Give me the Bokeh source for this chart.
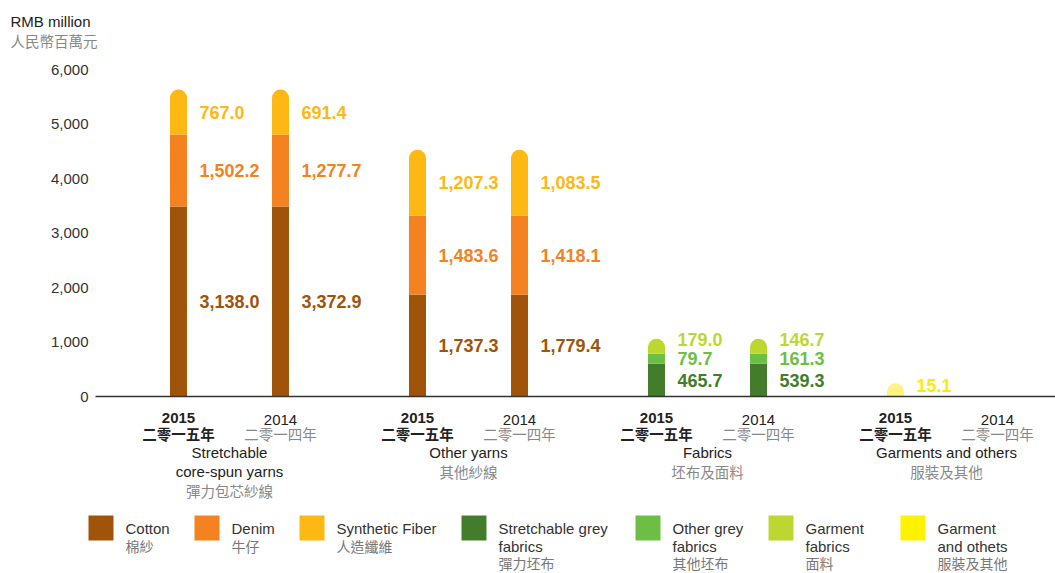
import numpy as np
from bokeh.plotting import figure
from bokeh.models import Range1d
from bokeh.core.properties import value
from bokeh.embed import file_html
from bokeh.resources import INLINE

# ---------------- data ----------------
groups_en = [["Stretchable", "core-spun yarns"], ["Other yarns"], ["Fabrics"], ["Garments and others"]]
groups_zh = ["彈力包芯紗線", "其他紗線", "坯布及面料", "服裝及其他"]
years = ["2015", "2014"]
years_zh = ["二零一五年", "二零一四年"]

series_en = [["Cotton"], ["Denim"], ["Synthetic Fiber"], ["Stretchable grey", "fabrics"],
             ["Other grey", "fabrics"], ["Garment", "fabrics"], ["Garment", "and othets"]]
series_zh = ["棉紗", "牛仔", "人造纖維", "彈力坯布", "其他坯布", "面料", "服裝及其他"]

# labelled values per bar (order: group0-2015, group0-2014, group1-2015, ...)
cotton = [3138.0, 3372.9, 1737.3, 1779.4, 0, 0, 0, 0]
denim = [1502.2, 1277.7, 1483.6, 1418.1, 0, 0, 0, 0]
synthetic = [767.0, 691.4, 1207.3, 1083.5, 0, 0, 0, 0]
stretch_grey = [0, 0, 0, 0, 465.7, 539.3, 0, 0]
other_grey = [0, 0, 0, 0, 79.7, 161.3, 0, 0]
garment_fabrics = [0, 0, 0, 0, 179.0, 146.7, 0, 0]
garment_others = [0, 0, 0, 0, 0, 0, 15.1, 0]

# segment heights as drawn in the picture (the bars are schematic)
cotton_drawn = [3486, 3486, 1866, 1866, 0, 0, 0, 0]
denim_drawn = [1321, 1321, 1450, 1450, 0, 0, 0, 0]
synthetic_drawn = [826, 826, 1211, 1211, 0, 0, 0, 0]
stretch_grey_drawn = [0, 0, 0, 0, 600, 600, 0, 0]
other_grey_drawn = [0, 0, 0, 0, 183, 183, 0, 0]
garment_fabrics_drawn = [0, 0, 0, 0, 276, 276, 0, 0]
garment_others_drawn = [0, 0, 0, 0, 0, 0, 244, 0]

y_ticks = [0, 1000, 2000, 3000, 4000, 5000, 6000]

values = [cotton, denim, synthetic, stretch_grey, other_grey, garment_fabrics, garment_others]
drawn = [cotton_drawn, denim_drawn, synthetic_drawn, stretch_grey_drawn, other_grey_drawn,
         garment_fabrics_drawn, garment_others_drawn]

# ---------------- style / layout ----------------
colors = ["#A0540A", "#F58220", "#FDB813", "#437C2B", "#6DBE45", "#BED730", "#FFF200"]
bar_colors = ["#A0540A", "#F58220", "#FDB813", "#437C2B", "#6DBE45", "#BED730", "#FFF283"]
label_colors = ["#A0540A", "#F58220", "#FDB813", "#437C2B", "#6DBE45", "#BED730", "#FFEA00"]
FONT = "Liberation Sans"
CJK = "Noto Sans CJK TC"

W, H = 1055, 573
PX_Y = 54.5 / 1000.0      # px per unit on y
PX_X = 239.0              # px per group on x
BAR_OFF = 51 / PX_X
BAR_W = 17 / PX_X
CAP_R = 8.5               # px
ZERO_PX = 396
X0_PX = 229               # px of first group centre
LABEL_GAP = 19.5          # min px between stacked value labels

def ydata(px):
    return (ZERO_PX - px) / PX_Y

def xdata(px):
    return (px - X0_PX) / PX_X

n_groups = len(groups_en)
bar_x = [g + (-BAR_OFF if k == 0 else BAR_OFF) for g in range(n_groups) for k in range(2)]
nb = len(bar_x)

p = figure(width=W, height=H, output_backend="svg", toolbar_location=None,
           x_range=Range1d(xdata(0), xdata(W)), y_range=Range1d(ydata(H), ydata(0)),
           min_border=0, x_axis_location=None, y_axis_location=None)
p.extra_x_ranges = {"px": Range1d(0, W)}
p.extra_y_ranges = {"px": Range1d(H, 0)}
p.outline_line_color = None
p.grid.visible = False
PXR = dict(x_range_name="px", y_range_name="px")

# y tick labels
p.text(x=[xdata(88)] * len(y_ticks), y=y_ticks, text=[f"{t:,}" for t in y_ticks],
       text_font=value(FONT), text_font_size="15px", text_color="#333333",
       text_align="right", text_baseline="middle")

cap_units = CAP_R / PX_Y
seam = 1.0 / PX_Y
bottoms = np.zeros(nb)
totals = np.sum(np.array(drawn, dtype=float), axis=0)
cap_x, cap_y, cap_c = [], [], []
lab_x, lab_y, lab_t, lab_c = [], [], [], []
last_lab_px = [None] * nb
for s in range(len(drawn)):
    h = np.array(drawn[s], dtype=float)
    xs, bs, ts = [], [], []
    for i in range(nb):
        if h[i] <= 0:
            continue
        b = bottoms[i]
        t = b + h[i]
        is_top = abs(t - totals[i]) < 1e-6
        mid_px = ZERO_PX - (b + t) / 2 * PX_Y
        mid_px = min(mid_px, ZERO_PX - 11.5)
        if last_lab_px[i] is not None:
            mid_px = min(mid_px, last_lab_px[i] - LABEL_GAP)
        last_lab_px[i] = mid_px
        if is_top:
            t_rect = t - cap_units
            cap_x.append(bar_x[i]); cap_y.append(t_rect); cap_c.append(bar_colors[s])
            t_rect = t_rect + seam
        else:
            t_rect = t
        xs.append(bar_x[i]); bs.append(b); ts.append(t_rect)
        lab_x.append(bar_x[i] + 21 / PX_X)
        lab_y.append(ydata(mid_px))
        lab_t.append(f"{values[s][i]:,.1f}")
        lab_c.append(label_colors[s])
    if xs:
        p.vbar(x=xs, bottom=bs, top=ts, width=BAR_W, fill_color=bar_colors[s], line_color=None)
    bottoms = bottoms + h

p.wedge(x=cap_x, y=cap_y, radius=CAP_R, radius_units="screen", start_angle=0, end_angle=np.pi,
        fill_color=cap_c, line_color=None)

p.text(x=lab_x, y=lab_y, text=lab_t, text_color=lab_c, text_font=value(FONT),
       text_font_style="bold", text_font_size="18px", text_baseline="middle", text_align="left")

# baseline (x axis line)
p.segment(x0=[xdata(95)], y0=[0], x1=[xdata(W)], y1=[0], line_color="#333333", line_width=1.5)

# year labels
for k in range(2):
    xs = [bar_x[2 * g + k] for g in range(n_groups)]
    p.text(x=xs, y=[ydata(417 if k == 0 else 419)] * n_groups, text=[years[k]] * n_groups,
           text_font=value(FONT), text_font_size="15px",
           text_font_style="bold" if k == 0 else "normal",
           text_color="#222222", text_align="center", text_baseline="middle")
    p.text(x=xs, y=[ydata(433)] * n_groups, text=[years_zh[k]] * n_groups,
           text_font=value(CJK), text_font_size="14.5px",
           text_font_style="bold" if k == 0 else "normal",
           text_color="#222222" if k == 0 else "#888888", text_align="center", text_baseline="middle")

# group names
line_px = [452, 471, 490]
ex, ey, et, cx, cy, ct = [], [], [], [], [], []
for g in range(n_groups):
    for j, t in enumerate(groups_en[g]):
        ex.append(g); ey.append(ydata(line_px[j])); et.append(t)
    cx.append(g); cy.append(ydata(line_px[len(groups_en[g])])); ct.append(groups_zh[g])
p.text(x=ex, y=ey, text=et, text_font=value(FONT), text_font_size="15px", text_color="#222222",
       text_align="center", text_baseline="middle")
p.text(x=cx, y=cy, text=ct, text_font=value(CJK), text_font_size="14.5px", text_color="#888888",
       text_align="center", text_baseline="middle")

# unit title
p.text(x=[10], y=[21], text=["RMB million"], text_font=value(FONT), text_font_size="15px",
       text_color="#222222", text_baseline="middle", text_align="left", **PXR)
p.text(x=[10], y=[39.5], text=["人民幣百萬元"], text_font=value(CJK), text_font_size="14.5px",
       text_color="#888888", text_baseline="middle", text_align="left", **PXR)

# ---------------- legend ----------------
sw_left = [88, 194, 299, 461, 635, 768, 900]
p.quad(left=sw_left, right=[v + 25 for v in sw_left], top=[515] * 7, bottom=[540] * 7,
       fill_color=colors, line_color=None, **PXR)
leg_lines = [528, 545.5, 562]
lx, ly, lt, zx, zy, zt = [], [], [], [], [], []
for i in range(len(series_en)):
    for j, t in enumerate(series_en[i]):
        lx.append(sw_left[i] + 37); ly.append(leg_lines[j]); lt.append(t)
    zx.append(sw_left[i] + 37); zy.append(leg_lines[len(series_en[i])]); zt.append(series_zh[i])
p.text(x=lx, y=ly, text=lt, text_font=value(FONT), text_font_size="15px", text_color="#333333",
       text_align="left", text_baseline="middle", **PXR)
p.text(x=zx, y=zy, text=zt, text_font=value(CJK), text_font_size="14px", text_color="#777777",
       text_align="left", text_baseline="middle", **PXR)

open("out.html", "w").write(file_html(p, INLINE))
